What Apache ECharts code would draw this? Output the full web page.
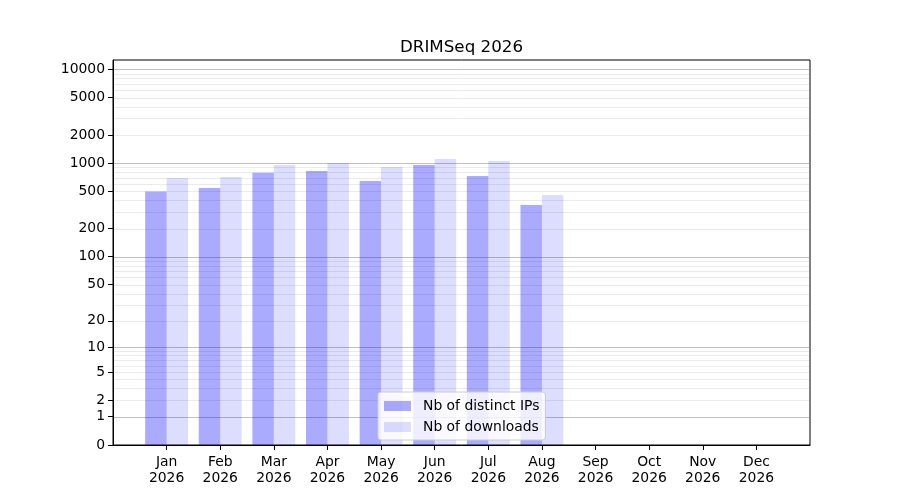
<!DOCTYPE html>
<html lang="en">

<head>
    <meta charset="UTF-8">
    <title>DRIMSeq 2026</title>
</head>
<style>
    body {
        margin: 0;
    }

    #main {
        width: 900px;
        height: 500px;
    }
</style>

<body>
    <div id="main"></div>
    <script src="https://cdn.jsdelivr.net/npm/echarts@6/dist/echarts.min.js"></script>

    <script>
        const months = ['Jan', 'Feb', 'Mar', 'Apr', 'May', 'Jun', 'Jul', 'Aug', 'Sep', 'Oct', 'Nov', 'Dec']
        const year = '2026'
        const distinctIPs = [498, 545, 793, 827, 647, 957, 731, 359, null, null, null, null]
        const downloads = [696, 713, 957, 1005, 912, 1109, 1056, 459, null, null, null, null]
        const yTicks = [0, 1, 2, 5, 10, 20, 50, 100, 200, 500, 1000, 2000, 5000, 10000]
        const majorGrid = [1, 10, 100, 1000, 10000]
        const minorGrid = [2, 3, 4, 5, 6, 7, 8, 9, 20, 30, 40, 50, 60, 70, 80, 90,
            200, 300, 400, 500, 600, 700, 800, 900, 2000, 3000, 4000, 5000, 6000, 7000, 8000, 9000]

        // y axis is log10(1 + n)
        const tr = v => v == null ? null : Math.log10(1 + v)
        const font = 'DejaVu Sans'

        // one empty slot each side, like the matplotlib margins
        const cats = [''].concat(months.map(m => m + '\n' + year), [''])
        const pad = arr => [null].concat(arr.map(tr), [null])

        const gridData = minorGrid.map(v => [0, tr(v), 0]).concat(majorGrid.map(v => [0, tr(v), 1]))

        function renderGrid(params, api) {
            const cs = params.coordSys
            const y = Math.round(api.coord([0, api.value(1)])[1]) + 0.5
            const major = api.value(2) === 1
            return {
                type: 'line',
                shape: { x1: cs.x + 1, y1: y, x2: cs.x + cs.width - 1, y2: y },
                style: { stroke: major ? '#c0c0c0' : '#ebebeb', lineWidth: 1 },
                silent: true
            }
        }

        let chart = echarts.init(document.getElementById('main'))
        let option = {
            animation: false,
            title: {
                text: 'DRIMSeq ' + year,
                left: 456.5,
                textAlign: 'center',
                top: 34,
                textStyle: { fontFamily: font, fontSize: 16.7, fontWeight: 'normal', color: '#000' }
            },
            legend: {
                orient: 'vertical',
                left: 378,
                top: 392,
                padding: [7, 6, 6, 6],
                itemWidth: 27,
                itemHeight: 10,
                itemGap: 7,
                icon: 'rect',
                backgroundColor: 'rgba(255,255,255,0.8)',
                borderColor: '#cccccc',
                borderWidth: 1,
                borderRadius: 3,
                textStyle: { fontFamily: font, fontSize: 13.9, color: '#000', lineHeight: 14, padding: [0, 0, 0, 7] },
                data: ['Nb of distinct IPs', 'Nb of downloads']
            },
            grid: {
                left: 113,
                right: 90,
                top: 60,
                bottom: 55,
                show: true,
                borderColor: '#000',
                borderWidth: 1,
                backgroundColor: 'transparent'
            },
            xAxis: {
                type: 'category',
                data: cats,
                boundaryGap: false,
                axisLine: { lineStyle: { color: '#000' } },
                axisTick: {
                    length: 5,
                    lineStyle: { color: '#000' },
                    interval: i => i > 0 && i < cats.length - 1
                },
                axisLabel: {
                    interval: 0,
                    margin: 9,
                    fontFamily: font,
                    fontSize: 13.9,
                    lineHeight: 16,
                    color: '#000'
                },
                splitLine: { show: false }
            },
            yAxis: {
                type: 'value',
                min: 0,
                max: 4.099,
                axisLine: { show: true, lineStyle: { color: '#000' } },
                axisTick: {
                    show: true,
                    length: 5,
                    lineStyle: { color: '#000' },
                    customValues: yTicks.map(tr)
                },
                axisLabel: {
                    margin: 8,
                    padding: [3, 0, 0, 0],
                    fontFamily: font,
                    fontSize: 13.9,
                    color: '#000',
                    customValues: yTicks.map(tr),
                    formatter: v => String(Math.round(Math.pow(10, v) - 1))
                },
                splitLine: { show: false }
            },
            series: [
                {
                    type: 'custom',
                    renderItem: renderGrid,
                    data: gridData,
                    silent: true,
                    clip: true,
                    z: 0,
                    encode: { x: 0, y: 1 }
                },
                {
                    name: 'Nb of distinct IPs',
                    type: 'bar',
                    data: pad(distinctIPs),
                    barWidth: '40%',
                    barGap: '0%',
                    z: 2,
                    itemStyle: { color: 'rgba(0,0,255,0.333)' }
                },
                {
                    name: 'Nb of downloads',
                    type: 'bar',
                    data: pad(downloads),
                    barWidth: '40%',
                    barGap: '0%',
                    z: 2,
                    itemStyle: { color: 'rgba(0,0,255,0.133)' }
                }
            ]
        }
        chart.setOption(option)
    </script>
</body>

</html>
